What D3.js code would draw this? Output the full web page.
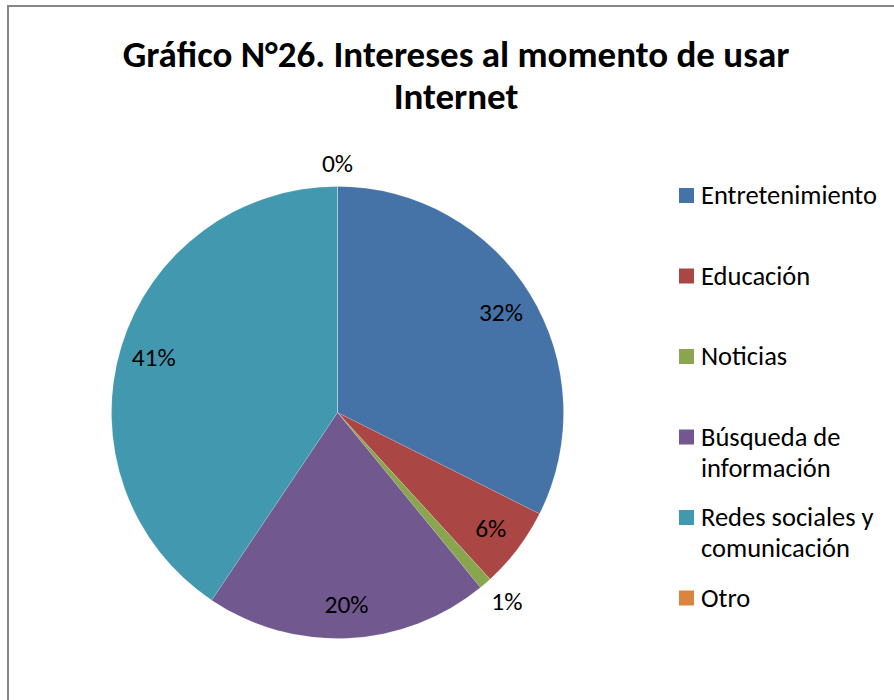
<!DOCTYPE html>
<html>
<head>
<meta charset="utf-8">
<script src="https://cdn.jsdelivr.net/npm/d3@7"></script>
<style>
  body { margin: 0; background: #fff; }
  svg text { font-family: Carlito, Calibri, Lato, sans-serif; fill: #000; }
</style>
</head>
<body>
<script>
// data
const categories = ["Entretenimiento", "Educación", "Noticias", "Búsqueda de información", "Redes sociales y comunicación", "Otro"];
const values = [32.4, 5.8, 0.9, 20.3, 40.6, 0];
const colors = ["#4572A7", "#AA4643", "#89A54E", "#71588F", "#4198AF", "#DB843D"];
const titleLines = ["Gráfico N°26. Intereses al momento de usar", "Internet"];

const w = 894, h = 700;
const cx = 337.5, cy = 412.5, r = 226;

const data = categories.map((c, i) => ({ name: c, value: values[i] }));
const total = d3.sum(values);

const svg = d3.select("body").append("svg")
    .attr("width", w)
    .attr("height", h);

// chart frame (cut off at right and bottom like the original)
svg.append("rect")
    .attr("x", 8).attr("y", 6)
    .attr("width", w + 20).attr("height", h + 20)
    .attr("fill", "#fff")
    .attr("stroke", "#868686")
    .attr("stroke-width", 2);

// title
svg.append("text")
    .attr("text-anchor", "middle")
    .attr("font-weight", "bold")
    .attr("font-size", 37)
    .selectAll("tspan")
    .data(titleLines)
    .join("tspan")
    .attr("x", 456)
    .attr("y", (d, i) => 67 + i * 42)
    .text(d => d);

const color = d3.scaleOrdinal().domain(categories).range(colors);

const pie = d3.pie().sort(null).value(d => d.value);
const arcs = pie(data);

const arc = d3.arc().innerRadius(0).outerRadius(r);
const labelArc = d3.arc().innerRadius(r * 0.85).outerRadius(r * 0.85);

const g = svg.append("g").attr("transform", `translate(${cx},${cy})`);

g.selectAll("path")
    .data(arcs)
    .join("path")
    .attr("d", arc)
    .attr("fill", d => color(d.data.name))
    .attr("stroke", "#fff")
    .attr("stroke-opacity", 0.3)
    .attr("stroke-width", 0.5);

// data labels: inside for big slices, outside for tiny ones
const fmt = v => Math.round(v / total * 100) + "%";
g.selectAll("text.lbl")
    .data(arcs)
    .join("text")
    .attr("class", "lbl")
    .attr("font-size", 25.5)
    .attr("text-anchor", "middle")
    .attr("dy", "0.35em")
    .attr("transform", d => {
        const share = d.data.value / total;
        if (share >= 0.03) return `translate(${labelArc.centroid(d)})`;
        const a = (d.startAngle + d.endAngle) / 2;
        const rr = r + 9;
        const x = Math.sin(a) * rr + Math.sin(a) * 24;
        const y = -Math.cos(a) * rr - Math.cos(a) * 14;
        return `translate(${x},${y})`;
    })
    .text(d => fmt(d.data.value));

// legend
const legendY = d3.scalePoint().domain(categories).range([195.5, 598]);
const leg = svg.append("g");
const items = leg.selectAll("g")
    .data(categories)
    .join("g")
    .attr("transform", d => `translate(679,${legendY(d)})`);

items.append("rect")
    .attr("x", 0).attr("y", -7.5)
    .attr("width", 15).attr("height", 15)
    .attr("fill", d => color(d));

items.append("text")
    .attr("x", 22)
    .attr("font-size", 26.5)
    .each(function (d) {
        const t = d3.select(this);
        const words = d.split(" ");
        let line = [], lineNo = 0;
        let tspan = t.append("tspan").attr("x", 22).attr("y", 0).attr("dy", "0.33em");
        words.forEach(wd => {
            line.push(wd);
            tspan.text(line.join(" "));
            if (tspan.node().getComputedTextLength() > 190 && line.length > 1) {
                line.pop();
                tspan.text(line.join(" "));
                line = [wd];
                lineNo++;
                tspan = t.append("tspan").attr("x", 22).attr("y", lineNo * 31).attr("dy", "0.33em").text(wd);
            }
        });
    });
</script>
</body>
</html>
